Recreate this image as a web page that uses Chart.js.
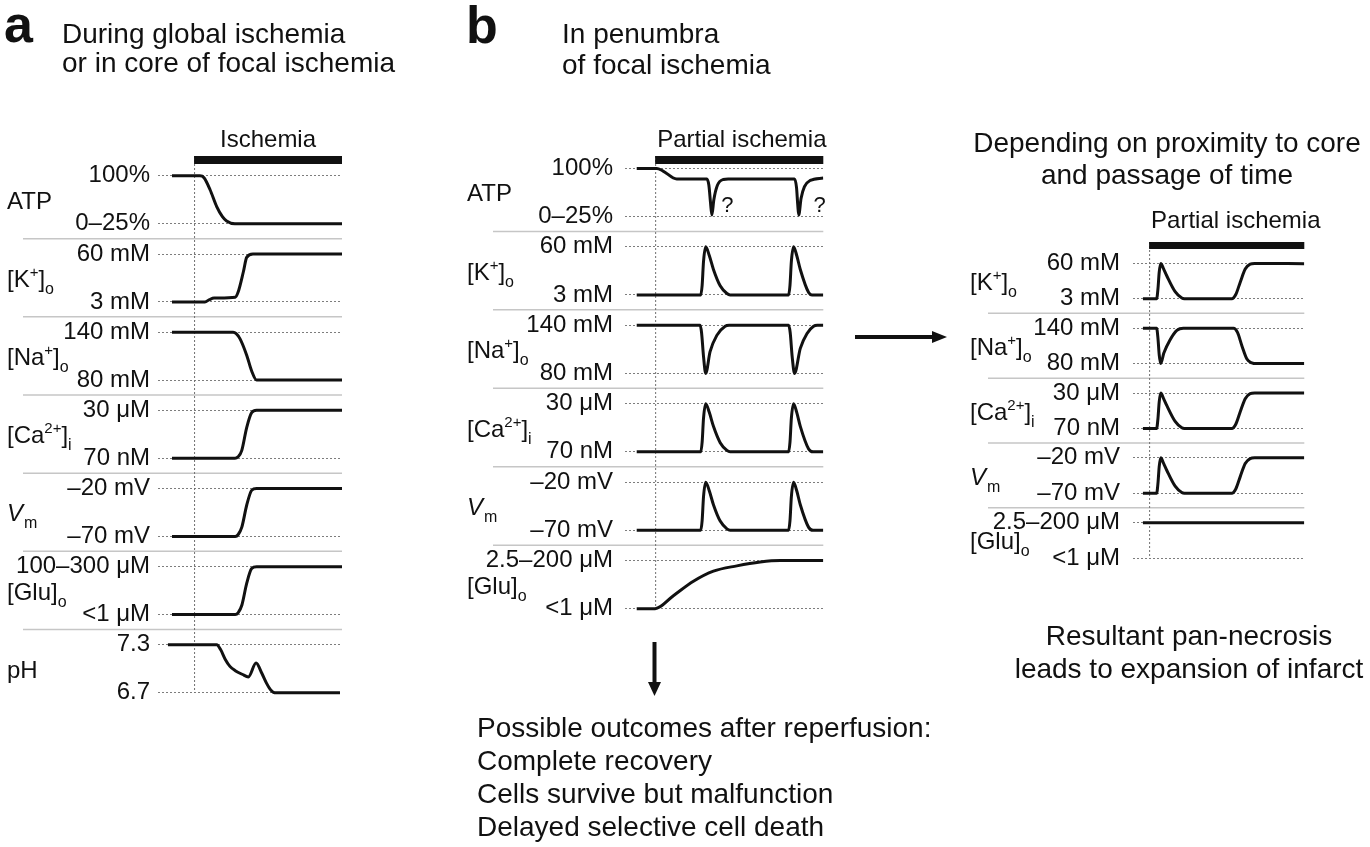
<!DOCTYPE html>
<html>
<head>
<meta charset="utf-8">
<script src="https://cdn.jsdelivr.net/npm/chart.js@4.4.1/dist/chart.umd.min.js"></script>
<style>
  html, body { margin: 0; padding: 0; background: #fff; }
  body { width: 1370px; height: 847px; position: relative; overflow: hidden; }
  canvas { position: absolute; }
  #chartA { left: 0; top: 120px; }
  #chartB { left: 460px; top: 120px; }
  #chartC { left: 940px; top: 200px; }
  svg { position: absolute; left: 0; top: 0; pointer-events: none; }
  svg text { font-family: 'Liberation Sans', Arial, sans-serif; fill: #111; }
</style>
</head>
<body>
<canvas id="chartA" width="350" height="610"></canvas>
<canvas id="chartB" width="370" height="530"></canvas>
<canvas id="chartC" width="420" height="400"></canvas>

<svg width="1370" height="847">
  <text x="4" y="42" style="font-weight:bold;font-size:52px">a</text>
  <text x="62" y="43" style="font-size:28px">During global ischemia</text>
  <text x="62" y="72" style="font-size:28px">or in core of focal ischemia</text>

  <text x="466" y="43" style="font-weight:bold;font-size:52px">b</text>
  <text x="562" y="43" style="font-size:28px">In penumbra</text>
  <text x="562" y="74" style="font-size:28px">of focal ischemia</text>

  <text x="1167" y="152" text-anchor="middle" style="font-size:28px">Depending on proximity to core</text>
  <text x="1167" y="184" text-anchor="middle" style="font-size:28px">and passage of time</text>

  <text x="1189" y="645" text-anchor="middle" style="font-size:28px">Resultant pan-necrosis</text>
  <text x="1189" y="678" text-anchor="middle" style="font-size:28px">leads to expansion of infarct</text>

  <text x="477" y="737" style="font-size:28px">Possible outcomes after reperfusion:</text>
  <text x="477" y="770" style="font-size:28px">Complete recovery</text>
  <text x="477" y="803" style="font-size:28px">Cells survive but malfunction</text>
  <text x="477" y="836" style="font-size:28px">Delayed selective cell death</text>

  <!-- arrows -->
  <line x1="855" y1="337" x2="935" y2="337" stroke="#111" stroke-width="4"/>
  <polygon points="932,331 947,337 932,343" fill="#111"/>
  <line x1="654.5" y1="642" x2="654.5" y2="684" stroke="#111" stroke-width="4"/>
  <polygon points="648,682 661,682 654.5,696" fill="#111"/>
</svg>

<script>
// ---- data: each trace is [time, level] with level 0 = lower tick, 1 = upper tick ----

// a: global ischemia / core
const rowsA = ['ATP', 'K', 'Na', 'Ca', 'Vm', 'Glu', 'pH'];
const hiA = ['100%', '60 mM', '140 mM', '30 μM', '–20 mV', '100–300 μM', '7.3'];
const loA = ['0–25%', '3 mM', '80 mM', '70 nM', '–70 mV', '<1 μM', '6.7'];
const onsetA = 19.6;
const atpA = [[7.6, 1], [22.8, 1], [25, 0.96], [28.3, 0.71], [31.9, 0.36], [35, 0.15], [37.3, 0.06], [41.8, 0], [100, 0]];
const kA = [[7.6, 0], [25.5, 0], [28, 0.05], [30.5, 0.08], [42, 0.1], [43.5, 0.2], [46.4, 0.63], [48.2, 0.93], [51.6, 1], [100, 1]];
const naA = [[7.6, 1], [40.8, 1], [42.5, 0.97], [44.6, 0.86], [48.2, 0.52], [50.9, 0.19], [53.6, 0], [100, 0]];
const caA = [[7.6, 0], [41.8, 0], [43.5, 0.03], [45.5, 0.16], [48.2, 0.64], [50.9, 0.95], [53.6, 1], [100, 1]];
const vmA = [[7.6, 0], [42, 0], [43.6, 0.04], [45.6, 0.2], [48.2, 0.65], [50.9, 0.96], [53.6, 1], [100, 1]];
const gluA = [[7.6, 0], [42, 0], [43.6, 0.04], [45.6, 0.2], [48.2, 0.65], [50.9, 0.96], [53.6, 1], [100, 1]];
const phA = [[5.4, 1], [31.9, 1], [34, 0.9], [36.5, 0.7], [39.1, 0.55], [42, 0.46], [46, 0.38], [49.1, 0.33], [53.3, 0.62], [56.5, 0.4], [59.1, 0.19], [61, 0.07], [62.7, 0.01], [64.5, 0], [98.9, 0]];

// b: penumbra
const rowsB = ['ATP', 'K', 'Na', 'Ca', 'Vm', 'Glu'];
const hiB = ['100%', '60 mM', '140 mM', '30 μM', '–20 mV', '2.5–200 μM'];
const loB = ['0–25%', '3 mM', '80 mM', '70 nM', '–70 mV', '<1 μM'];
const onsetB = 15.2;
const atpB = [[5.9, 1], [16, 1], [19, 0.95], [26.1, 0.78], [41.3, 0.78], [42.3, 0.65], [43.1, 0.3], [43.8, 0.03], [44.8, 0.35], [46.6, 0.65], [49.6, 0.77], [52, 0.78], [85.5, 0.78], [86.5, 0.6], [87.1, 0.25], [87.6, 0.03], [88.8, 0.38], [90.5, 0.62], [93.4, 0.75], [100, 0.8]];
const kB = [[5.9, 0], [38.2, 0], [38.9, 0.2], [39.6, 0.7], [40.7, 1], [42.5, 0.82], [44.6, 0.53], [48, 0.19], [51.4, 0.03], [53, 0], [82.5, 0], [83.2, 0.2], [83.9, 0.7], [85, 1], [86.6, 0.82], [88.4, 0.53], [92.6, 0.05], [94.3, 0], [100, 0]];
const naB = [[5.9, 1], [37.9, 1], [38.6, 0.85], [39.6, 0.35], [40.7, 0], [42.9, 0.45], [46.3, 0.79], [50.5, 0.98], [52.5, 1], [82.5, 1], [83.3, 0.85], [84.3, 0.35], [85.5, 0], [88.4, 0.52], [91.8, 0.83], [95.1, 0.98], [97, 1], [100, 1]];
const caB = [[5.9, 0], [38.2, 0], [38.9, 0.2], [39.6, 0.7], [40.7, 1], [42.5, 0.82], [44.6, 0.53], [48, 0.19], [51.4, 0.03], [53, 0], [82.5, 0], [83.2, 0.2], [83.9, 0.7], [85, 1], [86.6, 0.82], [88.4, 0.53], [92.6, 0.06], [94.8, 0], [100, 0]];
const vmB = [[5.9, 0], [38.2, 0], [38.9, 0.2], [39.6, 0.7], [40.7, 1], [42.5, 0.82], [44.6, 0.53], [48, 0.19], [51.4, 0.03], [53, 0], [82.5, 0], [83.2, 0.2], [83.9, 0.7], [85, 1], [86.6, 0.82], [88.4, 0.53], [92.6, 0.06], [94.8, 0], [100, 0]];
const gluB = [[5.9, 0], [15.2, 0], [24.4, 0.27], [34.5, 0.57], [44.6, 0.78], [56.4, 0.89], [68.2, 0.97], [78.3, 1], [100, 1]];
const marksB = [{ x: 48.5, y: 0.1, text: '?' }, { x: 95.1, y: 0.1, text: '?' }];

// c: depending on proximity to core
const rowsC = ['K', 'Na', 'Ca', 'Vm', 'Glu'];
const hiC = ['60 mM', '140 mM', '30 μM', '–20 mV', '2.5–200 μM'];
const loC = ['3 mM', '80 mM', '70 nM', '–70 mV', '<1 μM'];
const onsetC = 9.4;
const kC = [[5.8, 0], [13.8, 0], [14.6, 0.3], [15.3, 0.75], [16.2, 1], [17.8, 0.85], [19.7, 0.65], [24.6, 0.2], [28.5, 0.02], [30, 0], [57.7, 0], [60, 0.12], [62.6, 0.47], [65.5, 0.84], [68.4, 0.98], [71, 1], [100, 0.99]];
const naC = [[5.8, 1], [13.8, 1], [14.6, 0.7], [15.3, 0.25], [16.2, 0], [18, 0.3], [21.6, 0.67], [25.6, 0.94], [29.4, 1], [58.7, 1], [61, 0.88], [63.6, 0.5], [66.5, 0.13], [69.4, 0.02], [72, 0], [100, 0]];
const caC = [[5.8, 0], [13.8, 0], [14.6, 0.3], [15.3, 0.75], [16.2, 1], [17.8, 0.85], [19.7, 0.65], [24.6, 0.2], [28.5, 0.02], [30, 0], [57.7, 0], [60, 0.12], [62.6, 0.47], [65.5, 0.84], [68.4, 0.98], [71, 1], [100, 1]];
const vmC = [[5.8, 0], [13.8, 0], [14.6, 0.3], [15.3, 0.75], [16.2, 1], [17.8, 0.85], [19.7, 0.65], [24.6, 0.2], [28.5, 0.02], [30, 0], [57.7, 0], [60, 0.12], [62.6, 0.47], [65.5, 0.84], [68.4, 0.98], [71, 1], [100, 1]];
const gluC = [[5.8, 1], [100, 1]];

// row titles, drawn with sub/superscripts
const rowTitles = {
  ATP: [['ATP', 'n']],
  K: [['[K', 'n'], ['+', 'sup'], [']', 'n'], ['o', 'sub']],
  Na: [['[Na', 'n'], ['+', 'sup'], [']', 'n'], ['o', 'sub']],
  Ca: [['[Ca', 'n'], ['2+', 'sup'], [']', 'n'], ['i', 'sub']],
  Vm: [['V', 'it'], ['m', 'sub']],
  Glu: [['[Glu]', 'n'], ['o', 'sub']],
  pH: [['pH', 'n']]
};

const FONT = "'Liberation Sans', Arial, sans-serif";
const INK = '#111';

const drawRich = (ctx, parts, x, y) => {
  parts.forEach(([t, kind]) => {
    let size = 24, dy = 0, style = '';
    if (kind === 'sup') { size = 15; dy = -10; }
    if (kind === 'sub') { size = 16; dy = 7; }
    if (kind === 'it') style = 'italic ';
    ctx.font = `${style}${size}px ${FONT}`;
    ctx.fillText(t, x, y + dy);
    x += ctx.measureText(t).width + (kind === 'it' ? 1 : 0);
  });
};

// separators, onset line, ischemia bar, row titles
const panelDecor = {
  id: 'panelDecor',
  beforeDatasetsDraw(chart, args, opts) {
    const { ctx, chartArea, scales } = chart;
    const ys = opts.rows.map((r, i) => scales['y' + i]);
    const xo = scales.x.getPixelForValue(opts.onset);
    ctx.save();

    ctx.strokeStyle = '#c6c6c6';
    ctx.lineWidth = 1.5;
    ys.slice(0, -1).forEach(s => {
      ctx.beginPath();
      ctx.moveTo(opts.sepLeft, s.bottom);
      ctx.lineTo(chartArea.right, s.bottom);
      ctx.stroke();
    });

    ctx.strokeStyle = '#707070';
    ctx.lineWidth = 1;
    ctx.setLineDash([2, 2]);
    ctx.beginPath();
    ctx.moveTo(xo + 0.5, opts.barTop);
    ctx.lineTo(xo + 0.5, ys[ys.length - 1].getPixelForValue(0));
    ctx.stroke();
    ctx.setLineDash([]);

    ctx.fillStyle = INK;
    ctx.fillRect(xo, opts.barTop, chartArea.right - xo, opts.barHeight);
    ctx.font = `24px ${FONT}`;
    ctx.textBaseline = 'alphabetic';
    if (opts.barAlign === 'center') {
      ctx.textAlign = 'center';
      ctx.fillText(opts.barLabel, (xo + chartArea.right) / 2, opts.barLabelY);
    } else {
      ctx.textAlign = 'left';
      ctx.fillText(opts.barLabel, xo + 2, opts.barLabelY);
    }

    ctx.textAlign = 'left';
    opts.rows.forEach((r, i) => {
      const s = ys[i];
      const mid = (s.getPixelForValue(0) + s.getPixelForValue(1)) / 2;
      drawRich(ctx, rowTitles[r], opts.labelX, mid + 9);
    });

    ctx.font = `22px ${FONT}`;
    (opts.marks || []).forEach(m => {
      ctx.fillText(m.text, scales.x.getPixelForValue(m.x), ys[0].getPixelForValue(m.y));
    });
    ctx.restore();
  }
};

const makeChart = (id, p) => {
  const scales = { x: { type: 'linear', display: false, min: 0, max: 100 } };
  p.rows.forEach((r, i) => {
    scales['y' + i] = {
      type: 'linear',
      position: 'left',
      stack: 'rows',
      stackWeight: 1,
      weight: p.rows.length - i,
      min: -p.padLow,
      max: 1 + p.padHigh,
      afterBuildTicks: s => { s.ticks = [{ value: 0 }, { value: 1 }]; },
      afterFit: s => { s.width = p.axisWidth; },
      ticks: {
        autoSkip: false,
        padding: p.tickPad,
        color: INK,
        font: { family: FONT, size: 24 },
        callback: v => (v === 1 ? p.hi[i] : p.lo[i])
      },
      grid: { drawTicks: false, color: '#7d7d7d', lineWidth: 1 },
      border: { display: false, dash: [2, 2] }
    };
  });

  new Chart(document.getElementById(id), {
    type: 'line',
    data: {
      datasets: p.series.map((s, i) => ({
        data: s.map(([x, y]) => ({ x, y })),
        xAxisID: 'x',
        yAxisID: 'y' + i,
        borderColor: INK,
        borderWidth: 3,
        pointRadius: 0,
        fill: false,
        cubicInterpolationMode: 'monotone'
      }))
    },
    options: {
      responsive: false,
      animation: false,
      layout: { padding: { top: p.padTop, bottom: p.padBottom, left: 0, right: p.padRight } },
      scales,
      plugins: {
        legend: { display: false },
        tooltip: { enabled: false },
        panelDecor: {
          rows: p.rows, onset: p.onset, barTop: p.barTop, barHeight: p.barHeight,
          barLabel: p.barLabel, barAlign: p.barAlign, barLabelY: p.barLabelY,
          labelX: p.labelX, sepLeft: p.sepLeft, marks: p.marks
        }
      }
    },
    plugins: [panelDecor]
  });
};

makeChart('chartA', {
  rows: rowsA, hi: hiA, lo: loA, onset: onsetA,
  series: [atpA, kA, naA, caA, vmA, gluA, phA],
  padLow: 0.31, padHigh: 0.32,
  padTop: 40.5, padBottom: 15.7, padRight: 8, axisWidth: 158, tickPad: 8,
  labelX: 7, sepLeft: 23, barTop: 36, barHeight: 8, barLabelY: 27,
  barLabel: 'Ischemia', barAlign: 'center'
});

makeChart('chartB', {
  rows: rowsB, hi: hiB, lo: loB, onset: onsetB,
  series: [atpB, kB, naB, caB, vmB, gluB], marks: marksB,
  padLow: 0.31, padHigh: 0.32,
  padTop: 33, padBottom: 14.5, padRight: 6.7, axisWidth: 165, tickPad: 12,
  labelX: 7, sepLeft: 33, barTop: 36, barHeight: 8, barLabelY: 27,
  barLabel: 'Partial ischemia', barAlign: 'left'
});

makeChart('chartC', {
  rows: rowsC, hi: hiC, lo: loC, onset: onsetC,
  series: [kC, naC, caC, vmC, gluC],
  padLow: 0.41, padHigh: 0.42,
  padTop: 48.5, padBottom: 12.3, padRight: 55.7, axisWidth: 193, tickPad: 13,
  labelX: 30, sepLeft: 48, barTop: 42, barHeight: 7, barLabelY: 28,
  barLabel: 'Partial ischemia', barAlign: 'left'
});
</script>
</body>
</html>
